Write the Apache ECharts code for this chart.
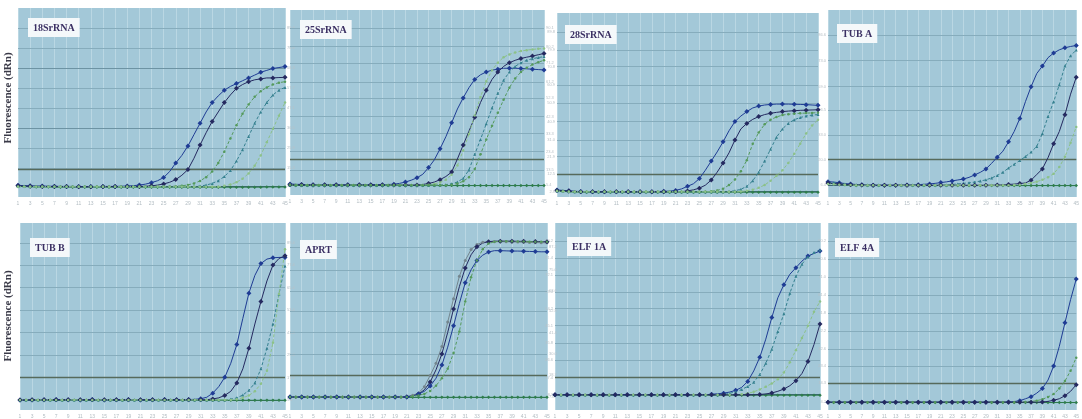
<!DOCTYPE html>
<html lang="en">
<head>
<meta charset="UTF-8">
<title>qPCR amplification plots</title>
<script src="https://cdn.jsdelivr.net/npm/echarts@6/dist/echarts.min.js"></script>
<style>
    body { margin: 0; padding: 0; background: #fff; overflow: hidden; }
    #chart { width: 1082px; height: 419px; }
</style>
</head>
<body>
<div id="chart"></div>
<script>
    // cycles on the x axis
    const cycles = [1,2,3,4,5,6,7,8,9,10,11,12,13,14,15,16,17,18,19,20,21,22,23,
        24,25,26,27,28,29,30,31,32,33,34,35,36,37,38,39,40,41,42,43,44,45];

    const titles = ['18SrRNA', '25SrRNA', '28SrRNA', 'TUB A', 'TUB B', 'APRT', 'ELF 1A', 'ELF 4A'];

    // fluorescence, read as % of each panel's height
    const thresholds = [14.8, 19.5, 12.5, 20, 17.4, 18.7, 17.4, 14.3];
    const gridLines = [
        [5.8, 15.3, 25.9, 36.5, 47.1, 57.7, 68.3, 78.8, 89.4],
        [5.4, 13.5, 23.4, 33.3, 42.3, 52.3, 61.2, 71.2, 80.2, 90.1],
        [2.9, 12.5, 21.9, 31, 40.9, 50.9, 60.9, 70.8, 79.9, 89.8],
        [6.4, 20, 33, 46.5, 59, 73, 86.6],
        [5.4, 17.4, 29.4, 41.4, 53.4, 65.4, 77.4, 89.4],
        [7, 18.7, 30, 41.4, 52.8, 63.6, 75, 87.2],
        [8.3, 17.4, 26.6, 35.8, 45.1, 54.2, 63, 72.1, 81.4, 90.2],
        [4.2, 14.3, 23.4, 32.6, 42.2, 51.8, 61.4, 71, 80.6, 90.2]
    ];
    const majorLines = [[36.5, 68.3], [], [], [], [], [], [], []];

    // 18SrRNA
    const p18S = [
        [6.2,6.0,5.9,5.8,5.8,5.7,5.7,5.6,5.6,5.6,5.5,5.5,5.5,5.5,5.6,
         5.6,5.6,5.7,5.8,6.0,6.3,6.8,7.6,8.6,10.3,13.5,18,22,27,33,
         39,45,50,53.5,56.5,58.5,60,61.5,63,64.5,66,67,68,68.5,69],
        [5.9,5.8,5.7,5.6,5.6,5.5,5.5,5.5,5.5,5.4,5.4,5.4,5.4,5.5,5.5,
         5.5,5.5,5.5,5.5,5.6,5.6,5.7,5.9,6.3,6.9,7.8,9.2,11.5,14.5,20.5,
         27.5,34,40,45,50,54,57.5,59.5,61,62,62.5,63,63,63.2,63.3],
        [5.6,5.6,5.5,5.5,5.5,5.5,5.5,5.5,5.5,5.5,5.5,5.5,5.5,5.5,5.5,
         5.5,5.5,5.5,5.5,5.5,5.5,5.5,5.5,5.5,5.6,5.6,5.7,5.9,6.4,7.2,
         8.5,10.5,13.5,18,24,31,38,44,49,53,56,58,59.5,60.5,61],
        [5.5,5.5,5.5,5.5,5.5,5.5,5.5,5.5,5.5,5.5,5.5,5.5,5.5,5.5,5.5,
         5.5,5.5,5.5,5.5,5.5,5.5,5.5,5.5,5.5,5.5,5.5,5.5,5.5,5.5,5.5,
         5.8,6.3,7.2,8.6,10.8,14,19,25,32,39,45,50,54,56.5,58],
        [5.4,5.4,5.4,5.4,5.4,5.4,5.4,5.4,5.4,5.4,5.4,5.4,5.4,5.4,5.4,
         5.4,5.4,5.4,5.4,5.4,5.4,5.4,5.4,5.4,5.4,5.4,5.4,5.4,5.4,5.4,
         5.4,5.4,5.4,5.4,5.9,6.6,7.8,9.6,12.5,16.5,22,29,36,43,50],
        [5.6,5.5,5.4,5.3,5.3,5.3,5.2,5.2,5.2,5.2,5.2,5.2,5.2,5.2,5.2,
         5.2,5.2,5.2,5.2,5.2,5.2,5.2,5.2,5.2,5.2,5.2,5.2,5.2,5.2,5.2,
         5.2,5.2,5.2,5.2,5.2,5.2,5.2,5.2,5.2,5.2,5.2,5.3,5.3,5.3,5.3]
    ];

    // 25SrRNA
    const p25S = [
        [5.9,5.8,5.7,5.6,5.6,5.6,5.5,5.5,5.5,5.5,5.5,5.5,5.6,5.6,5.6,
         5.6,5.6,5.7,5.8,6.3,7.0,8.0,9.3,11.2,14.8,19,25,31.5,39,46.5,
         52.5,58,62.5,65,66.5,67.5,68,68.5,68.5,68.5,68.4,68.2,68,67.8,67.6],
        [5.6,5.5,5.5,5.4,5.4,5.4,5.4,5.4,5.4,5.4,5.4,5.4,5.4,5.4,5.4,
         5.4,5.4,5.4,5.4,5.4,5.4,5.4,5.4,5.7,6.2,7,8.3,10,12.4,19.5,
         27,34.5,42,50,56.6,62.5,66.5,69.5,71.5,72.8,73.8,74.5,75.1,75.8,76.5],
        [5.5,5.5,5.4,5.4,5.4,5.4,5.4,5.4,5.4,5.4,5.4,5.4,5.4,5.4,5.4,
         5.4,5.4,5.4,5.4,5.4,5.4,5.4,5.4,5.4,5.6,6,6.8,8.3,11,16,
         24,33,43,53,61.5,67.5,71.5,74.5,76,77,77.8,78.3,78.7,79,79.2],
        [5.4,5.4,5.3,5.3,5.3,5.3,5.3,5.3,5.3,5.3,5.3,5.3,5.3,5.3,5.3,
         5.3,5.3,5.3,5.3,5.3,5.3,5.3,5.3,5.3,5.3,5.3,5.3,5.6,6.1,7,
         9,13.5,22,30,38.5,47,55,62,66.5,69.5,71.5,72.8,73.7,74.3,74.8],
        [5.4,5.3,5.3,5.3,5.3,5.3,5.3,5.3,5.3,5.3,5.3,5.3,5.3,5.3,5.3,
         5.3,5.3,5.3,5.3,5.3,5.3,5.3,5.3,5.3,5.3,5.3,5.3,5.3,5.6,6.2,
         7.4,9.6,14,22,30,37.5,44.5,51.5,58,63,66.5,68.8,70.5,71.8,72.8],
        [5.3,5.2,5.1,5.1,5.1,5.1,5.1,5.1,5.1,5.1,5.1,5.1,5.1,5.1,5.1,
         5.1,5.1,5.1,5.1,5.1,5.1,5.1,5.1,5.1,5.1,5.1,5.1,5.1,5.1,5.1,
         5.1,5.1,5.1,5.1,5.1,5.1,5.1,5.1,5.1,5.1,5.1,5.1,5.1,5.1,5.1]
    ];

    // 28SrRNA
    const p28S = [
        [3.8,3.6,3.4,3.1,3,2.9,2.9,2.8,2.8,2.8,2.8,2.8,2.8,2.9,2.9,
         2.9,2.9,3,3.1,3.2,3.6,4.4,5.8,7.2,10,14.5,19.5,24.5,30,36,
         41,44,46.4,48.4,49.4,50,50.3,50.5,50.5,50.5,50.4,50.3,50.2,50,49.8],
        [3.6,3.4,3.2,3,2.9,2.8,2.8,2.8,2.8,2.8,2.8,2.8,2.8,2.8,2.8,
         2.8,2.8,2.8,2.8,2.8,2.9,2.9,3.3,3.9,4.8,6.4,9.2,13.5,18.5,24,
         31,37,40,42.2,43.7,44.8,45.5,46,46.4,46.7,46.9,47.1,47.2,47.3,47.4],
        [3.4,3.2,3,2.9,2.8,2.8,2.8,2.8,2.8,2.8,2.8,2.8,2.8,2.8,2.8,
         2.8,2.8,2.8,2.8,2.8,2.8,2.8,2.8,2.8,2.8,2.8,3.1,3.6,4.5,6.5,
         9.5,14,20,29,35,39.5,42,43.5,44.5,45,45.3,45.5,45.6,45.7,45.8],
        [3.3,3.1,3,2.9,2.8,2.8,2.8,2.8,2.8,2.8,2.8,2.8,2.8,2.8,2.8,
         2.8,2.8,2.8,2.8,2.8,2.8,2.8,2.8,2.8,2.8,2.8,2.8,2.8,2.8,3,
         3.4,4.2,5.8,8.8,13.5,19.5,26,32.5,37,40,42,43.2,44,44.5,44.8],
        [3.2,3,2.9,2.8,2.8,2.8,2.8,2.8,2.8,2.8,2.8,2.8,2.8,2.8,2.8,
         2.8,2.8,2.8,2.8,2.8,2.8,2.8,2.8,2.8,2.8,2.8,2.8,2.8,2.8,2.8,
         2.8,3,3.4,4,5,6.5,8.8,11.5,14.5,18.5,23.5,29,34.5,38.8,42],
        [3.4,3.1,2.8,2.7,2.6,2.6,2.6,2.6,2.6,2.6,2.6,2.6,2.6,2.6,2.6,
         2.6,2.6,2.6,2.6,2.6,2.6,2.6,2.6,2.6,2.6,2.6,2.6,2.6,2.6,2.6,
         2.6,2.6,2.6,2.6,2.6,2.6,2.6,2.6,2.6,2.6,2.6,2.6,2.6,2.6,2.6]
    ];

    // TUB A
    const pTubA = [
        [8.2,8,7.6,7.2,6.9,6.7,6.5,6.4,6.3,6.3,6.3,6.3,6.3,6.4,6.4,
         6.5,6.6,6.8,7.0,7.3,7.7,8.1,8.6,9.1,9.6,10.5,11.8,13.2,15,18,
         21.3,24.5,29.5,35,42,51,59,66,70,74.5,77,78.7,79.8,80.5,81],
        [7.8,7.6,7.3,7,6.8,6.6,6.5,6.4,6.4,6.4,6.4,6.4,6.4,6.4,6.4,
         6.4,6.4,6.4,6.4,6.4,6.4,6.4,6.7,7,7.3,7.6,8,8.5,9.2,10.2,
         11.5,13.2,15.5,17.5,19.5,21.6,24,27,34,43,51,60,70,75.5,78.6],
        [7.5,7.2,7,6.8,6.6,6.5,6.4,6.3,6.3,6.3,6.3,6.3,6.3,6.3,6.3,
         6.3,6.3,6.3,6.3,6.3,6.3,6.3,6.3,6.3,6.3,6.3,6.3,6.3,6.3,6.3,
         6.4,6.5,6.7,6.9,7.2,7.5,9,12,15,21,28.5,35,44,55,64],
        [7,6.8,6.6,6.5,6.4,6.3,6.3,6.3,6.3,6.3,6.3,6.3,6.3,6.3,6.3,
         6.3,6.3,6.3,6.3,6.3,6.3,6.3,6.3,6.3,6.3,6.3,6.3,6.3,6.3,6.3,
         6.3,6.3,6.3,6.4,6.6,7,7.5,8.2,9.2,10.5,12.5,16,21.5,29,37.5],
        [7.4,7.1,6.8,6.5,6.3,6.2,6.1,6.1,6.1,6.1,6.1,6.1,6.1,6.1,6.1,
         6.1,6.1,6.1,6.1,6.1,6.1,6.1,6.1,6.1,6.1,6.1,6.1,6.1,6.1,6.1,
         6.1,6.1,6.1,6.1,6.1,6.1,6.1,6.1,6.1,6.1,6.1,6.1,6.1,6.1,6.1]
    ];

    // TUB B
    const pTubB = [
        [5.3,5.3,5.4,5.5,5.5,5.6,5.6,5.5,5.5,5.4,5.4,5.5,5.6,5.5,5.4,
         5.4,5.5,5.5,5.6,5.5,5.4,5.4,5.5,5.5,5.6,5.5,5.5,5.5,5.6,5.7,
         6,6.8,9,12.5,17.5,25,35,49,62.5,72,78.3,80.7,81.4,81.6,81.6],
        [5.4,5.4,5.5,5.5,5.5,5.5,5.5,5.5,5.5,5.5,5.5,5.5,5.5,5.5,5.5,
         5.5,5.5,5.5,5.5,5.5,5.5,5.5,5.5,5.5,5.5,5.5,5.5,5.5,5.5,5.5,
         5.5,5.5,5.9,6.5,7.8,10,14.5,22,33,46,58,69,77.5,81,82.5],
        [5.4,5.4,5.4,5.4,5.4,5.4,5.4,5.4,5.4,5.4,5.4,5.4,5.4,5.4,5.4,
         5.4,5.4,5.4,5.4,5.4,5.4,5.4,5.4,5.4,5.4,5.4,5.4,5.4,5.4,5.4,
         5.4,5.4,5.4,5.4,5.4,5.8,6.5,8,10.5,14.5,22,33,46,62,77],
        [5.4,5.4,5.4,5.4,5.4,5.4,5.4,5.4,5.4,5.4,5.4,5.4,5.4,5.4,5.4,
         5.4,5.4,5.4,5.4,5.4,5.4,5.4,5.4,5.4,5.4,5.4,5.4,5.4,5.4,5.4,
         5.4,5.4,5.4,5.4,5.4,5.4,5.8,6.5,7.8,10,14,21,36,62,86],
        [5.2,5.2,5.2,5.2,5.2,5.2,5.2,5.2,5.2,5.2,5.2,5.2,5.2,5.2,5.2,
         5.2,5.2,5.2,5.2,5.2,5.2,5.2,5.2,5.2,5.2,5.2,5.2,5.2,5.2,5.2,
         5.2,5.2,5.2,5.2,5.2,5.2,5.2,5.2,5.2,5.2,5.2,5.2,5.2,5.2,5.2]
    ];

    // APRT
    const pAprt = [
        [6.8,7,7,7.1,7,7,6.9,7,7,7,7,7,7,7,7,
         7,7,7,7,7,7.3,7.9,9,12.5,18.5,25,34,47,59.5,71.5,
         80,85.8,88.5,89.7,90,90,90,90,89.9,89.8,89.7,89.6,89.5,89.5,89.4],
        [7,7,7,7,7,7,7,7,7,7,7,7,7,7,7,
         7,7,7,7,7,7,7.5,8.5,10.8,15,21.5,30,41.5,54,66,
         76,83,87.3,89.3,90,90.3,90.3,90.3,90.3,90.2,90.2,90.1,90.1,90,90],
        [7,7,7,7,7,7,7,7,7,7,7,7,7,7,7,
         7,7,7,7,7,7,7.5,8.5,10,12.8,17,24,33.6,45,57,
         68,75,80,82.8,84.5,85.2,85.2,85.1,85,85,84.9,84.8,84.7,84.6,84.6],
        [7,7,7,7,7,7,7,7,7,7,7,7,7,7,7,
         7,7,7,7,7,7,7.3,7.8,8.6,10.2,13,17,22,30.5,42,
         58,71,80,86,89,90,90.2,90.2,90.2,90.1,90.1,90,90,90,90],
        [6.8,6.8,6.8,6.8,6.8,6.8,6.8,6.8,6.8,6.8,6.8,6.8,6.8,6.8,6.8,
         6.8,6.8,6.8,6.8,6.8,6.8,6.8,6.8,6.8,6.8,6.8,6.8,6.8,6.8,6.8,
         6.8,6.8,6.8,6.8,6.8,6.8,6.8,6.8,6.8,6.8,6.8,6.8,6.8,6.8,6.8]
    ];

    // ELF 1A
    const pElf1A = [
        [8.2,8.2,8.2,8.2,8.2,8.2,8.2,8.2,8.2,8.2,8.2,8.2,8.2,8.2,8.2,
         8.2,8.2,8.2,8.2,8.2,8.2,8.2,8.2,8.2,8.2,8.2,8.4,8.7,9,9.6,
         10.5,12.1,15.3,20.9,28.2,37.9,49.5,60,67,72.6,76.1,79.6,82.3,83.7,85],
        [8.1,8.1,8.1,8.1,8.1,8.1,8.1,8.1,8.1,8.1,8.1,8.1,8.1,8.1,8.1,
         8.1,8.1,8.1,8.1,8.1,8.1,8.1,8.1,8.1,8.1,8.1,8.1,8.1,8.4,8.9,
         9.8,11,12.6,14.8,19,25,32.5,42,51.5,62.5,71.5,78,82,84.2,85.5],
        [8.1,8.1,8.1,8.1,8.1,8.1,8.1,8.1,8.1,8.1,8.1,8.1,8.1,8.1,8.1,
         8.1,8.1,8.1,8.1,8.1,8.1,8.1,8.1,8.1,8.1,8.1,8.1,8.1,8.1,8.1,
         8.1,8.4,8.9,9.7,11,12.5,14.2,16.5,20,25.5,32,38.5,45,52.5,58],
        [8.1,8.1,8.1,8.1,8.1,8.1,8.1,8.1,8.1,8.1,8.1,8.1,8.1,8.1,8.1,
         8.1,8.1,8.1,8.1,8.1,8.1,8.1,8.1,8.1,8.1,8.1,8.1,8.1,8.1,8.1,
         8.1,8.1,8.1,8.1,8.3,8.6,9.1,10,11.2,13,15.7,19.5,26,35,46],
        [7.9,7.9,7.9,7.9,7.9,7.9,7.9,7.9,7.9,7.9,7.9,7.9,7.9,7.9,7.9,
         7.9,7.9,7.9,7.9,7.9,7.9,7.9,7.9,7.9,7.9,7.9,7.9,7.9,7.9,7.9,
         7.9,7.9,7.9,7.9,7.9,7.9,7.9,7.9,7.9,7.9,7.9,7.9,7.9,7.9,7.9]
    ];

    // ELF 4A
    const pElf4A = [
        [4.2,4.2,4.2,4.2,4.2,4.2,4.2,4.2,4.2,4.2,4.2,4.2,4.2,4.2,4.2,
         4.2,4.2,4.2,4.2,4.2,4.2,4.2,4.2,4.2,4.2,4.2,4.2,4.2,4.2,4.2,
         4.2,4.2,4.3,4.5,5,6,7.1,9,11.5,16,23.5,34,46.6,59,70],
        [4.2,4.2,4.2,4.2,4.2,4.2,4.2,4.2,4.2,4.2,4.2,4.2,4.2,4.2,4.2,
         4.2,4.2,4.2,4.2,4.2,4.2,4.2,4.2,4.2,4.2,4.2,4.2,4.2,4.2,4.2,
         4.2,4.2,4.2,4.2,4.2,4.3,4.5,5,5.7,7,8.5,11.5,15.5,21,28],
        [4.2,4.2,4.2,4.2,4.2,4.2,4.2,4.2,4.2,4.2,4.2,4.2,4.2,4.2,4.2,
         4.2,4.2,4.2,4.2,4.2,4.2,4.2,4.2,4.2,4.2,4.2,4.2,4.2,4.2,4.2,
         4.2,4.2,4.2,4.2,4.2,4.2,4.2,4.2,4.3,4.6,5.2,6,7.6,10,13.5],
        [4.0,4.0,4.0,4.0,4.0,4.0,4.0,4.0,4.0,4.0,4.0,4.0,4.0,4.0,4.0,
         4.0,4.0,4.0,4.0,4.0,4.0,4.0,4.0,4.0,4.0,4.0,4.0,4.0,4.0,4.0,
         4.0,4.0,4.0,4.0,4.0,4.0,4.0,4.0,4.0,4.0,4.0,4.0,4.0,4.0,4.0]
    ];

    const panelData = [p18S, p25S, p28S, pTubA, pTubB, pAprt, pElf1A, pElf4A];

    // look of each curve (last one in every panel is the flat no-template control)
    const curveLook = {
        blue:  { color: '#1f3c94', symbol: 'diamond', size: 5, dash: 'solid' },
        navy:  { color: '#252a60', symbol: 'diamond', size: 5, dash: 'solid' },
        green: { color: '#559a5c', symbol: 'circle', size: 2.5, dash: [3, 2] },
        teal:  { color: '#35808f', symbol: 'triangle', size: 3, dash: [3, 2] },
        light: { color: '#8cc188', symbol: 'circle', size: 2.5, dash: [3, 2] },
        gray:  { color: '#74868f', symbol: 'circle', size: 3, dash: 'solid' },
        ntc:   { color: '#2e7d4c', symbol: 'diamond', size: 3.5, dash: 'solid' }
    };
    const panelLooks = [
        ['blue', 'navy', 'green', 'teal', 'light', 'ntc'],
        ['blue', 'navy', 'light', 'teal', 'green', 'ntc'],
        ['blue', 'navy', 'green', 'teal', 'light', 'ntc'],
        ['blue', 'teal', 'navy', 'light', 'ntc'],
        ['blue', 'navy', 'teal', 'light', 'ntc'],
        ['gray', 'navy', 'blue', 'green', 'ntc'],
        ['blue', 'teal', 'light', 'navy', 'ntc'],
        ['blue', 'green', 'navy', 'ntc']
    ];

    // plot rectangles and label boxes
    const layout = [
        { left: 18,  top: 8,   width: 267, height: 189, tl: 28,  tt: 18,  yPos: 'right' },
        { left: 290, top: 10,  width: 254, height: 185, tl: 300, tt: 20,  yPos: 'right' },
        { left: 557, top: 13,  width: 261, height: 184, tl: 565, tt: 25,  yPos: 'left' },
        { left: 828, top: 10,  width: 261, height: 187, tl: 837, tt: 24,  yPos: 'left' },
        { left: 20,  top: 223, width: 265, height: 190, tl: 30,  tt: 238, yPos: 'right' },
        { left: 290, top: 223, width: 257, height: 191, tl: 300, tt: 240, yPos: 'right' },
        { left: 555, top: 223, width: 265, height: 190, tl: 567, tt: 237, yPos: 'left' },
        { left: 828, top: 223, width: 265, height: 191, tl: 835, tt: 238, yPos: 'left' }
    ];

    function buildOption() {
        const grid = [], xAxis = [], yAxis = [], title = [], series = [];
        layout.forEach(function (box, i) {
            grid.push({
                left: box.left, top: box.top, width: box.width, height: box.height,
                show: true, backgroundColor: '#a3c8d8', borderWidth: 0
            });
            title.push({
                text: titles[i], left: box.tl, top: box.tt,
                backgroundColor: '#f4f8fa', padding: [5, 5, 4, 5],
                textStyle: { fontFamily: 'Liberation Serif', fontWeight: 'bold', fontSize: 10, color: '#3a2f63' }
            });
            xAxis.push({
                gridIndex: i, type: 'category', data: cycles, boundaryGap: false,
                axisLine: { show: false }, axisTick: { show: false },
                axisLabel: { interval: 1, fontSize: 5, color: '#b3bdc3', margin: 4 },
                splitLine: { show: true, interval: 1, lineStyle: { color: '#bad7e3', width: 1 } }
            });
            yAxis.push({
                gridIndex: i, type: 'value', min: 0, max: 100, position: box.yPos,
                axisLine: { show: false },
                axisTick: { show: false },
                axisLabel: { customValues: gridLines[i], fontSize: 4, color: '#b8c1c7', margin: 2,
                    formatter: function (v) { return v.toFixed(1); } },
                splitLine: { show: false }
            });

            const curves = panelData[i];
            const looks = panelLooks[i];
            curves.forEach(function (vals, j) {
                const look = curveLook[looks[j]];
                const s = {
                    type: 'line', xAxisIndex: i, yAxisIndex: i, data: vals,
                    symbol: look.symbol, symbolSize: look.size, silent: true,
                    lineStyle: { color: look.color, width: 1, type: look.dash },
                    itemStyle: { color: look.color },
                    z: looks[j] === 'ntc' ? 2 : 3
                };
                if (looks[j] === 'ntc') {
                    // horizontal grid, baseline, threshold
                    const lines = gridLines[i].slice(1).map(function (v) {
                        return { yAxis: v, lineStyle: { color: '#86acbc', width: 1, type: 'solid' } };
                    });
                    majorLines[i].forEach(function (v) {
                        lines.push({ yAxis: v, lineStyle: { color: '#6d93a3', width: 1.2, type: 'solid' } });
                    });
                    lines.push({ yAxis: gridLines[i][0], lineStyle: { color: '#3f6676', width: 1.2, type: 'solid' } });
                    lines.push({ yAxis: thresholds[i], lineStyle: { color: '#566a5b', width: 1.3, type: 'solid' } });
                    s.markLine = { silent: true, symbol: 'none', label: { show: false }, data: lines, z: 1 };
                }
                series.push(s);
            });
        });

        const yName = { text: 'Fluorescence (dRn)', font: 'bold 11px "Liberation Serif"', fill: '#3a3a48', align: 'center', verticalAlign: 'middle' };
        return {
            animation: false,
            backgroundColor: '#ffffff',
            title: title,
            grid: grid,
            xAxis: xAxis,
            yAxis: yAxis,
            series: series,
            graphic: [
                { type: 'text', x: 8, y: 98, rotation: Math.PI / 2, style: yName },
                { type: 'text', x: 8, y: 316, rotation: Math.PI / 2, style: yName }
            ]
        };
    }

    const chart = echarts.init(document.getElementById('chart'));
    chart.setOption(buildOption());
    window.onresize = function () { chart.resize(); };
</script>
</body>
</html>
